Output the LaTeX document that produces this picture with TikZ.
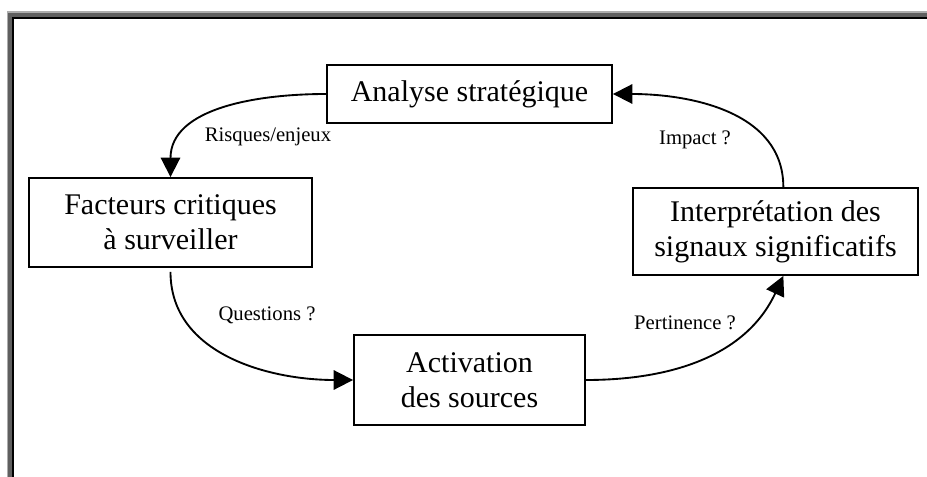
\documentclass[tikz,border=0pt]{standalone}
\usepackage{fontspec}
\setmainfont{Liberation Serif}
\usepackage{tikz}
\usetikzlibrary{shapes.geometric, arrows.meta}
\definecolor{framelight}{HTML}{ACACAC}
\definecolor{framedark}{HTML}{5F5F5F}
\tikzstyle{etape} =
[rectangle, inner sep = 0pt, text centered, align = center,
draw=black, line width = 1.4pt, font = \fontsize{22.5}{26}\selectfont]
\tikzstyle{question} =
[inner sep = 0pt, text centered, font = \fontsize{15.5}{18}\selectfont]
\tikzstyle{line} = [draw, line width = 1.4pt,
-{Triangle[length=14.5pt, width=14.5pt]}]

\begin{document}
\begin{tikzpicture}[x = 0.75pt, y = -0.75pt, auto]
  \useasboundingbox (0,0) rectangle (927,477);
  % frame
  \fill [framelight] (7,11) rectangle (927,13);
  \fill [framelight] (7,11) rectangle (8,477);
  \fill [framedark] (8,13) rectangle (927,17);
  \fill [framedark] (8,13) rectangle (12,477);
  \fill [black] (12,17) rectangle (927,19);
  \fill [black] (12,17) rectangle (14,477);
  %
  % cycle nodes
  \node [etape, minimum width = 213.75pt, minimum height = 43.5pt]
   (analyse) at (469.5,94) {Analyse stratégique};
  \node [etape, minimum width = 212.25pt, minimum height = 66.75pt]
   (facteurs) at (170.5,222.5) {Facteurs critiques\\à surveiller};
  \node [etape, minimum width = 173.25pt, minimum height = 67.5pt,
   below of=analyse, node distance = 214.5pt]
   (activation) {Activation\\des sources};
  \node [etape, minimum width = 213.75pt, minimum height = 65.25pt]
   (interp) at (775.5,231.5) {Interprétation des\\signaux significatifs};
  % cycle edges
  \path [line] (analyse.west) to [out=180, in=90] (facteurs.north);
  \path [line] (facteurs.south) ++(0,4) to [out=-90, in=180] (activation.west);
  \path [line] (activation.east) to [out=0, in=-115] (interp.-80);
  \path [line] (interp.80) to [out=90, in=0] (analyse.east);
  %
  % edge labels
  \node [question] (risques) at (268,137) {Risques/enjeux};
  \node [question] (questions) at (267,315) {Questions ?};
  \node [question] (pertinence) at (685,323) {Pertinence ?};
  \node [question] (impact) at (695,140) {Impact ?};
\end{tikzpicture}
\end{document}
